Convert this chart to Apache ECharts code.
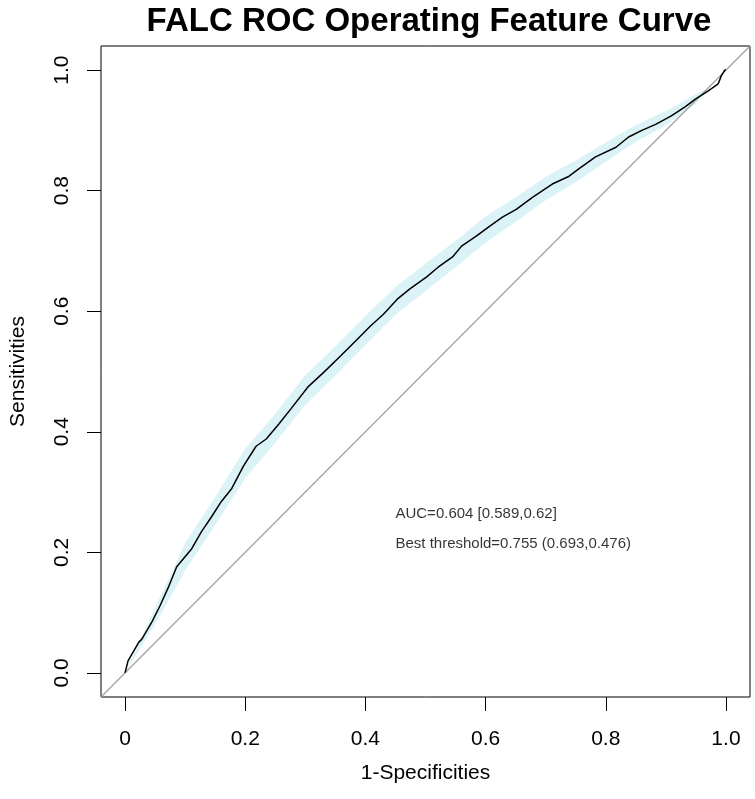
<!DOCTYPE html>
<html>
<head>
<meta charset="utf-8">
<title>FALC ROC</title>
<script src="https://cdn.jsdelivr.net/npm/echarts@6/dist/echarts.min.js"></script>
<style>
  html, body { margin: 0; padding: 0; background: #fff; }
  #main { width: 755px; height: 799px; }
</style>
</head>
<body>
<div id="main"></div>
<script>
// ROC curve: 1-specificity vs sensitivity
var rocX = [0, 0.005, 0.023, 0.028, 0.045, 0.058, 0.073, 0.086, 0.111, 0.127, 0.144, 0.160,
  0.177, 0.197, 0.218, 0.235, 0.256, 0.276, 0.304, 0.331, 0.359, 0.387, 0.408, 0.430,
  0.453, 0.474, 0.502, 0.521, 0.545, 0.560, 0.585, 0.607, 0.628, 0.651, 0.678, 0.711,
  0.739, 0.755, 0.783, 0.817, 0.838, 0.860, 0.883, 0.909, 0.932, 0.949, 0.970, 0.987,
  0.992, 0.998, 1.0];
var rocY = [0, 0.020, 0.051, 0.056, 0.085, 0.111, 0.144, 0.176, 0.206, 0.234, 0.259, 0.284,
  0.305, 0.343, 0.376, 0.388, 0.413, 0.438, 0.474, 0.499, 0.526, 0.554, 0.575, 0.595,
  0.620, 0.637, 0.657, 0.673, 0.690, 0.708, 0.725, 0.741, 0.756, 0.769, 0.789, 0.811,
  0.824, 0.836, 0.856, 0.872, 0.889, 0.900, 0.910, 0.924, 0.939, 0.952, 0.965, 0.977,
  0.990, 1.0, 1.0];

// confidence band of sensitivity
var bandX    = [0, 0.05, 0.10, 0.15, 0.20, 0.25, 0.30, 0.35, 0.40, 0.45, 0.50, 0.55, 0.60,
  0.65, 0.70, 0.75, 0.80, 0.85, 0.90, 0.95, 0.97];
var bandLow  = [0, 0.080, 0.170, 0.245, 0.323, 0.382, 0.445, 0.493, 0.544, 0.594, 0.633,
  0.673, 0.714, 0.748, 0.784, 0.814, 0.848, 0.881, 0.908, 0.944, 0.966];
var bandHigh = [0, 0.108, 0.215, 0.292, 0.372, 0.430, 0.494, 0.542, 0.592, 0.640, 0.679,
  0.717, 0.757, 0.789, 0.823, 0.850, 0.880, 0.909, 0.932, 0.960, 0.970];

var xTickValues = [0, 0.2, 0.4, 0.6, 0.8, 1];
var xTickLabels = ['0', '0.2', '0.4', '0.6', '0.8', '1.0'];
var yTickValues = [0, 0.2, 0.4, 0.6, 0.8, 1];
var yTickLabels = ['0.0', '0.2', '0.4', '0.6', '0.8', '1.0'];

var aucText = 'AUC=0.604 [0.589,0.62]';
var thresholdText = 'Best threshold=0.755 (0.693,0.476)';

var FONT = 'Arial, "Liberation Sans", Helvetica, sans-serif';

var myChart = echarts.init(document.getElementById('main'));

var rocData = rocX.map(function (x, i) { return [x, rocY[i]]; });
var bandData = bandX.map(function (x, i) { return [x, bandLow[i], bandHigh[i]]; });

var option = {
  backgroundColor: '#fff',
  animation: false,
  title: {
    text: 'FALC ROC Operating Feature Curve',
    left: 424,
    top: 0,
    textAlign: 'center',
    textStyle: { fontFamily: FONT, fontSize: 33, fontWeight: 'bold', color: '#000' }
  },
  grid: {
    left: 98, top: 46, right: 5, bottom: 102,
    show: true, borderColor: '#000', borderWidth: 1, backgroundColor: 'transparent'
  },
  xAxis: {
    type: 'value', min: -0.04, max: 1.04,
    name: '1-Specificities', nameLocation: 'middle', nameGap: 66,
    nameTextStyle: { fontFamily: FONT, fontSize: 21, color: '#000' },
    axisLine: { show: false, onZero: false },
    splitLine: { show: false },
    axisTick: { show: true, length: 14, customValues: xTickValues, lineStyle: { color: '#000' } },
    axisLabel: {
      customValues: xTickValues, margin: 32,
      fontFamily: FONT, fontSize: 21, color: '#000',
      formatter: function (v) { return xTickLabels[xTickValues.indexOf(v)]; }
    }
  },
  yAxis: {
    type: 'value', min: -0.04, max: 1.04,
    name: 'Sensitivities', nameLocation: 'middle', nameGap: 72,
    nameTextStyle: { fontFamily: FONT, fontSize: 21, color: '#000' },
    axisLine: { show: false, onZero: false },
    splitLine: { show: false },
    axisTick: { show: true, length: 14, customValues: yTickValues, lineStyle: { color: '#000' } },
    axisLabel: {
      customValues: yTickValues, margin: 28, rotate: 90,
      fontFamily: FONT, fontSize: 21, color: '#000',
      formatter: function (v) { return yTickLabels[yTickValues.indexOf(v)]; }
    }
  },
  series: [
    {
      name: 'CI',
      type: 'custom',
      z: 1,
      data: bandData,
      encode: { x: 0, y: [1, 2] },
      renderItem: function (params, api) {
        if (params.dataIndex !== 0) return null;
        var pts = [];
        bandData.forEach(function (d) { pts.push(api.coord([d[0], d[2]])); });
        for (var i = bandData.length - 1; i >= 0; i--) {
          pts.push(api.coord([bandData[i][0], bandData[i][1]]));
        }
        return { type: 'polygon', shape: { points: pts }, style: { fill: '#dbf3f6' } };
      }
    },
    {
      name: 'diag',
      type: 'line',
      z: 2,
      symbol: 'none',
      data: [[-0.04, -0.04], [1.04, 1.04]],
      lineStyle: { color: '#a0a0a0', width: 1.2 }
    },
    {
      name: 'ROC',
      type: 'line',
      z: 3,
      symbol: 'none',
      data: rocData,
      lineStyle: { color: '#000', width: 1.5 }
    },
    {
      name: 'text',
      type: 'scatter',
      z: 4,
      symbolSize: 0,
      data: [
        { value: [0.45, 0.264], label: { formatter: aucText } },
        { value: [0.45, 0.214], label: { formatter: thresholdText } }
      ],
      label: {
        show: true, position: 'right', distance: 0, align: 'left', verticalAlign: 'middle',
        fontFamily: FONT, fontSize: 15, color: '#000'
      }
    }
  ]
};

myChart.setOption(option);
</script>
</body>
</html>
